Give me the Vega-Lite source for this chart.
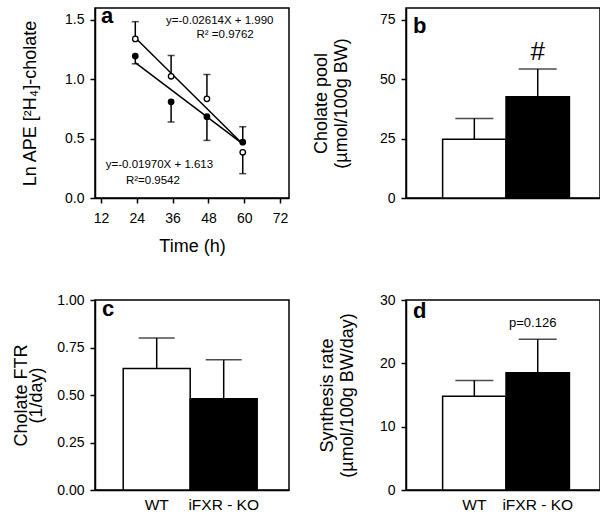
{
  "$schema": "https://vega.github.io/schema/vega-lite/v6.json",
  "padding": {"left": 12, "top": 4, "right": 2, "bottom": 2},
  "background": "white",
  "config": {
    "font": "Liberation Sans",
    "view": {"stroke": "black", "strokeWidth": 1.5},
    "axis": {
      "domainColor": "black", "domainWidth": 1.5,
      "tickColor": "black", "tickWidth": 1.5, "tickSize": 5,
      "labelColor": "black", "titleColor": "black", "grid": false,
      "labelFont": "Liberation Sans", "labelFontSize": 14, "labelOverlap": false,
      "titleFont": "Liberation Sans", "titleFontSize": 18, "titleFontWeight": "normal",
      "labelPadding": 6, "tickCount": 12
    },
    "title": {"color": "black", "font": "Liberation Sans", "fontSize": 22, "fontWeight": "bold", "anchor": "start", "baseline": "alphabetic", "frame": "group"}
  },
  "datasets": {
    "timecourse": [
      {"group": "WT", "time": 23.5, "mean": 1.34, "err": 1.485},
      {"group": "WT", "time": 35.5, "mean": 1.025, "err": 1.2},
      {"group": "WT", "time": 47.5, "mean": 0.835, "err": 1.04},
      {"group": "WT", "time": 59.5, "mean": 0.385, "err": 0.205},
      {"group": "iFXR - KO", "time": 23.5, "mean": 1.195, "err": 1.13},
      {"group": "iFXR - KO", "time": 35.5, "mean": 0.81, "err": 0.64},
      {"group": "iFXR - KO", "time": 47.5, "mean": 0.685, "err": 0.485},
      {"group": "iFXR - KO", "time": 59.5, "mean": 0.47, "err": 0.6}
    ],
    "fits": [
      {"group": "WT", "time": 23.5, "fit": 1.35},
      {"group": "WT", "time": 59.5, "fit": 0.455},
      {"group": "iFXR - KO", "time": 23.5, "fit": 1.14},
      {"group": "iFXR - KO", "time": 59.5, "fit": 0.455}
    ],
    "pool": [
      {"group": "WT", "mean": 24.7, "upper": 33.5},
      {"group": "iFXR - KO", "mean": 42.6, "upper": 54.3}
    ],
    "ftr": [
      {"group": "WT", "mean": 0.64, "upper": 0.8},
      {"group": "iFXR - KO", "mean": 0.48, "upper": 0.685}
    ],
    "synthesis": [
      {"group": "WT", "mean": 14.8, "upper": 17.3},
      {"group": "iFXR - KO", "mean": 18.5, "upper": 23.8}
    ],
    "note": [{}]
  },
  "columns": 2,
  "spacing": {"row": 102, "column": 117},
  "bounds": "flush",
  "concat": [
    {
      "width": 194, "height": 190,
      "title": {"text": "a", "offset": -20, "dx": 6},
      "layer": [
        {
          "data": {"name": "fits"},
          "mark": {"type": "line", "color": "black", "strokeWidth": 1.5},
          "encoding": {
            "x": {"field": "time", "type": "quantitative", "scale": {"domain": [12, 72]}, "title": "Time (h)",
                  "axis": {"values": [12, 24, 36, 48, 60, 72], "tickCount": 12, "labelPadding": 8, "titleFontSize": 18, "titlePadding": 12}},
            "y": {"field": "fit", "type": "quantitative", "scale": {"domain": [0, 1.575]}, "title": "Ln APE [²H₄]-cholate",
                  "axis": {"values": [0, 0.5, 1, 1.5], "format": ".1f", "titlePadding": 25}},
            "detail": {"field": "group"}
          }
        },
        {
          "data": {"name": "timecourse"},
          "mark": {"type": "rule", "color": "black", "strokeWidth": 1.5},
          "encoding": {
            "x": {"field": "time", "type": "quantitative", "title": "Time (h)"},
            "y": {"field": "mean", "type": "quantitative", "title": "Ln APE [²H₄]-cholate"},
            "y2": {"field": "err"}
          }
        },
        {
          "data": {"name": "timecourse"},
          "mark": {"type": "tick", "orient": "horizontal", "size": 7, "thickness": 1.5, "color": "black"},
          "encoding": {
            "x": {"field": "time", "type": "quantitative", "title": "Time (h)"},
            "y": {"field": "err", "type": "quantitative", "title": "Ln APE [²H₄]-cholate"}
          }
        },
        {
          "data": {"name": "timecourse"},
          "mark": {"type": "point", "shape": "circle", "filled": true, "size": 30, "stroke": "black", "strokeWidth": 1.3, "opacity": 1},
          "encoding": {
            "x": {"field": "time", "type": "quantitative", "title": "Time (h)"},
            "y": {"field": "mean", "type": "quantitative", "title": "Ln APE [²H₄]-cholate"},
            "fill": {"field": "group", "type": "nominal", "scale": {"domain": ["WT", "iFXR - KO"], "range": ["white", "black"]}, "legend": null}
          }
        },
        {
          "data": {"name": "note"},
          "mark": {"type": "text", "text": "y=-0.02614X + 1.990", "align": "right", "baseline": "middle", "fontSize": 11.5, "color": "black"},
          "encoding": {"x": {"datum": 69.8, "type": "quantitative"}, "y": {"datum": 1.49, "type": "quantitative"}}
        },
        {
          "data": {"name": "note"},
          "mark": {"type": "text", "text": "R² =0.9762", "align": "center", "baseline": "middle", "fontSize": 11.5, "color": "black"},
          "encoding": {"x": {"datum": 53.6, "type": "quantitative"}, "y": {"datum": 1.37, "type": "quantitative"}}
        },
        {
          "data": {"name": "note"},
          "mark": {"type": "text", "text": "y=-0.01970X + 1.613", "align": "left", "baseline": "middle", "fontSize": 11.5, "color": "black"},
          "encoding": {"x": {"datum": 13.6, "type": "quantitative"}, "y": {"datum": 0.28, "type": "quantitative"}}
        },
        {
          "data": {"name": "note"},
          "mark": {"type": "text", "text": "R²=0.9542", "align": "center", "baseline": "middle", "fontSize": 11.5, "color": "black"},
          "encoding": {"x": {"datum": 29.4, "type": "quantitative"}, "y": {"datum": 0.14, "type": "quantitative"}}
        }
      ]
    },
    {
      "width": 194, "height": 190,
      "title": {"text": "b", "offset": -30, "dx": 7},
      "data": {"name": "pool"},
      "encoding": {
        "x": {"field": "group", "type": "nominal", "sort": ["WT", "iFXR - KO"], "title": null,
              "scale": {"paddingInner": 0, "paddingOuter": 0.53, "align": 0.545},
              "axis": {"labels": false, "ticks": false}}
      },
      "layer": [
        {
          "mark": {"type": "bar", "stroke": "black", "strokeWidth": 1.5},
          "encoding": {
            "y": {"field": "mean", "type": "quantitative", "scale": {"domain": [0, 75]}, "title": ["Cholate pool", "(µmol/100g BW)"],
                  "axis": {"values": [0, 25, 50, 75], "titleLineHeight": 20, "titlePadding": 29}},
            "fill": {"field": "group", "type": "nominal", "scale": {"domain": ["WT", "iFXR - KO"], "range": ["white", "black"]}, "legend": null}
          }
        },
        {
          "mark": {"type": "rule", "color": "black", "strokeWidth": 1.5},
          "encoding": {"y": {"field": "mean", "type": "quantitative", "title": ["Cholate pool", "(µmol/100g BW)"]}, "y2": {"field": "upper"}}
        },
        {
          "mark": {"type": "tick", "orient": "horizontal", "size": 38, "thickness": 1.5, "color": "black"},
          "encoding": {"y": {"field": "upper", "type": "quantitative", "title": ["Cholate pool", "(µmol/100g BW)"]}}
        },
        {
          "data": {"name": "note"},
          "mark": {"type": "text", "text": "#", "fontSize": 26, "baseline": "middle", "align": "center", "color": "black"},
          "encoding": {"x": {"datum": "iFXR - KO"}, "y": {"datum": 61.5, "type": "quantitative"}}
        }
      ]
    },
    {
      "width": 194, "height": 190,
      "title": {"text": "c", "offset": -28, "dx": 7},
      "data": {"name": "ftr"},
      "encoding": {
        "x": {"field": "group", "type": "nominal", "sort": ["WT", "iFXR - KO"], "title": null,
              "scale": {"paddingInner": 0, "paddingOuter": 0.448, "align": 0.47},
              "axis": {"ticks": false, "labelAngle": 0, "labelFontSize": 15.5, "labelPadding": 7}}
      },
      "layer": [
        {
          "mark": {"type": "bar", "stroke": "black", "strokeWidth": 1.5},
          "encoding": {
            "y": {"field": "mean", "type": "quantitative", "scale": {"domain": [0, 1]}, "title": ["Cholate FTR", "(1/day)"],
                  "axis": {"values": [0, 0.25, 0.5, 0.75, 1], "format": ".2f", "titleLineHeight": 15, "titlePadding": 11}},
            "fill": {"field": "group", "type": "nominal", "scale": {"domain": ["WT", "iFXR - KO"], "range": ["white", "black"]}, "legend": null}
          }
        },
        {
          "mark": {"type": "rule", "color": "black", "strokeWidth": 1.5},
          "encoding": {"y": {"field": "mean", "type": "quantitative", "title": ["Cholate FTR", "(1/day)"]}, "y2": {"field": "upper"}}
        },
        {
          "mark": {"type": "tick", "orient": "horizontal", "size": 36, "thickness": 1.5, "color": "black"},
          "encoding": {"y": {"field": "upper", "type": "quantitative", "title": ["Cholate FTR", "(1/day)"]}}
        }
      ]
    },
    {
      "width": 194, "height": 190,
      "title": {"text": "d", "offset": -30, "dx": 7},
      "data": {"name": "synthesis"},
      "encoding": {
        "x": {"field": "group", "type": "nominal", "sort": ["WT", "iFXR - KO"], "title": null,
              "scale": {"paddingInner": 0, "paddingOuter": 0.53, "align": 0.545},
              "axis": {"ticks": false, "labelAngle": 0, "labelFontSize": 15.5, "labelPadding": 7}}
      },
      "layer": [
        {
          "mark": {"type": "bar", "stroke": "black", "strokeWidth": 1.5},
          "encoding": {
            "y": {"field": "mean", "type": "quantitative", "scale": {"domain": [0, 30]}, "title": ["Synthesis rate", "(µmol/100g BW/day)"],
                  "axis": {"values": [0, 10, 20, 30], "titleLineHeight": 20, "titlePadding": 23}},
            "fill": {"field": "group", "type": "nominal", "scale": {"domain": ["WT", "iFXR - KO"], "range": ["white", "black"]}, "legend": null}
          }
        },
        {
          "mark": {"type": "rule", "color": "black", "strokeWidth": 1.5},
          "encoding": {"y": {"field": "mean", "type": "quantitative", "title": ["Synthesis rate", "(µmol/100g BW/day)"]}, "y2": {"field": "upper"}}
        },
        {
          "mark": {"type": "tick", "orient": "horizontal", "size": 38, "thickness": 1.5, "color": "black"},
          "encoding": {"y": {"field": "upper", "type": "quantitative", "title": ["Synthesis rate", "(µmol/100g BW/day)"]}}
        },
        {
          "data": {"name": "note"},
          "mark": {"type": "text", "text": "p=0.126", "fontSize": 13, "baseline": "middle", "align": "center", "dx": -5, "color": "black"},
          "encoding": {"x": {"datum": "iFXR - KO"}, "y": {"datum": 26.4, "type": "quantitative"}}
        }
      ]
    }
  ]
}
